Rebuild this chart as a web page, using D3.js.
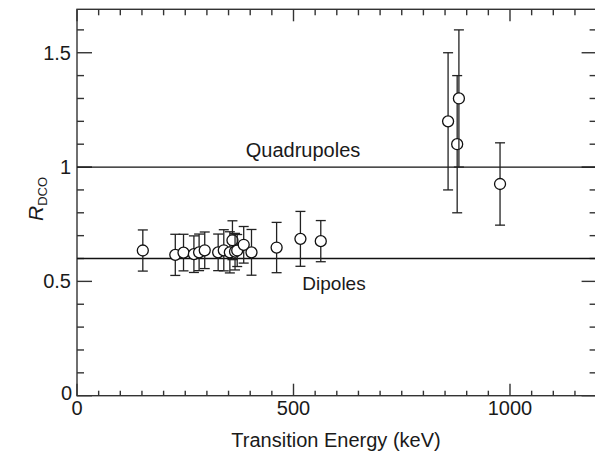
<!DOCTYPE html>
<html>
<head>
<meta charset="utf-8">
<script src="https://cdn.jsdelivr.net/npm/d3@7"></script>
<style>
  body { margin: 0; background: #fff; }
  svg { display: block; font-family: "Liberation Sans", Arial, sans-serif; }
</style>
</head>
<body>
<svg class="chart"></svg>
<script>
var width = 595,
    height = 453;

// transition energies (keV), R_DCO values and symmetric errors
var energy = [152, 227, 246, 270, 282, 295, 326, 339, 353, 359, 365, 370, 385, 403, 461, 516, 563, 857, 878, 882, 977];
var rdco   = [0.635, 0.616, 0.626, 0.619, 0.627, 0.636, 0.627, 0.636, 0.627, 0.68, 0.63, 0.635, 0.66, 0.627, 0.648, 0.686, 0.676, 1.2, 1.1, 1.3, 0.926];
var err    = [0.09, 0.09, 0.08, 0.08, 0.08, 0.08, 0.08, 0.09, 0.09, 0.085, 0.08, 0.07, 0.08, 0.1, 0.11, 0.12, 0.09, 0.3, 0.3, 0.3, 0.18];

var xTicks = [0, 500, 1000];
var yTicks = [0, 0.5, 1, 1.5];
var refLines = [{ value: 1, label: "Quadrupoles" }, { value: 0.6, label: "Dipoles" }];

var x = d3.scaleLinear()
    .domain([0, 1200])
    .range([77, 596.6]);
var y = d3.scaleLinear()
    .domain([0, 1.69])
    .range([395.7, 9.3]);

var chart = d3.select(".chart")
    .attr("width", width)
    .attr("height", height);

var axisColor = "#333";

// minor / major ticks, all four sides pointing inwards
var xMinor = d3.range(0, 1201, 50);
var yMinor = d3.range(0, 1.7, 0.1).map(function(d) { return Math.round(d * 10) / 10; });

function isMajorX(d) { return d % 500 === 0; }
function isMajorY(d) { return Math.abs(d * 2 - Math.round(d * 2)) < 1e-6; }

var frame = chart.append("g")
    .attr("stroke", axisColor)
    .attr("stroke-width", 1.4)
    .attr("fill", "none");

frame.append("rect")
    .attr("x", x(0))
    .attr("y", y(1.69))
    .attr("width", x(1200) - x(0))
    .attr("height", y(0) - y(1.69));

frame.selectAll(".xb")
    .data(xMinor)
  .enter().append("line")
    .attr("x1", function(d) { return x(d); })
    .attr("x2", function(d) { return x(d); })
    .attr("y1", y(0))
    .attr("y2", function(d) { return y(0) - (isMajorX(d) ? 12 : 5); });

frame.selectAll(".xt")
    .data(xMinor)
  .enter().append("line")
    .attr("x1", function(d) { return x(d); })
    .attr("x2", function(d) { return x(d); })
    .attr("y1", y(1.69))
    .attr("y2", function(d) { return y(1.69) + (isMajorX(d) ? 12 : 6); });

frame.selectAll(".yl")
    .data(yMinor)
  .enter().append("line")
    .attr("x1", x(0))
    .attr("x2", function(d) { return x(0) + (isMajorY(d) ? 15 : 7); })
    .attr("y1", function(d) { return y(d); })
    .attr("y2", function(d) { return y(d); });

frame.selectAll(".yr")
    .data(yMinor)
  .enter().append("line")
    .attr("x1", x(1200))
    .attr("x2", function(d) { return x(1200) - (isMajorY(d) ? 15 : 7); })
    .attr("y1", function(d) { return y(d); })
    .attr("y2", function(d) { return y(d); });

// tick labels
chart.selectAll(".xlab")
    .data(xTicks)
  .enter().append("text")
    .attr("x", function(d) { return x(d); })
    .attr("y", 415)
    .attr("text-anchor", "middle")
    .attr("font-size", 20)
    .attr("fill", "#1a1a1a")
    .text(function(d) { return d; });

chart.selectAll(".ylab")
    .data(yTicks)
  .enter().append("text")
    .attr("x", function(d) { return d === 0 ? 72 : 71; })
    .attr("y", function(d) { return y(d) + (d === 0 ? 4 : 7); })
    .attr("text-anchor", "end")
    .attr("font-size", 20)
    .attr("fill", "#1a1a1a")
    .text(function(d) { return d; });

// axis titles
chart.append("text")
    .attr("x", 336)
    .attr("y", 447)
    .attr("text-anchor", "middle")
    .attr("font-size", 20)
    .attr("fill", "#1a1a1a")
    .text("Transition Energy (keV)");

var ylab = chart.append("text")
    .attr("transform", "translate(43,199) rotate(-90)")
    .attr("text-anchor", "middle")
    .attr("fill", "#1a1a1a");
ylab.append("tspan")
    .attr("font-size", 21)
    .attr("font-style", "italic")
    .text("R");
ylab.append("tspan")
    .attr("font-size", 13)
    .attr("dy", 4)
    .text("DCO");

// reference lines
chart.selectAll(".ref")
    .data(refLines)
  .enter().append("line")
    .attr("x1", x(0))
    .attr("x2", x(1200))
    .attr("y1", function(d) { return y(d.value); })
    .attr("y2", function(d) { return y(d.value); })
    .attr("stroke", "#111")
    .attr("stroke-width", 1.3);

chart.selectAll(".reflab")
    .data(refLines)
  .enter().append("text")
    .attr("x", function(d) { return d.value === 1 ? 303 : 334; })
    .attr("y", function(d) { return d.value === 1 ? y(d.value) - 10 : y(d.value) + 31; })
    .attr("text-anchor", "middle")
    .attr("font-size", function(d) { return d.value === 1 ? 20 : 19; })
    .attr("fill", "#1a1a1a")
    .text(function(d) { return d.label; });

// data points with error bars
var points = energy.map(function(e, i) { return { e: e, r: rdco[i], s: err[i] }; });

var pt = chart.selectAll(".pt")
    .data(points)
  .enter().append("g")
    .attr("stroke", "#222")
    .attr("stroke-width", 1.3);

pt.append("line")
    .attr("x1", function(d) { return x(d.e); })
    .attr("x2", function(d) { return x(d.e); })
    .attr("y1", function(d) { return y(d.r + d.s); })
    .attr("y2", function(d) { return y(d.r - d.s); });

pt.append("line")
    .attr("x1", function(d) { return x(d.e) - 5; })
    .attr("x2", function(d) { return x(d.e) + 5; })
    .attr("y1", function(d) { return y(d.r + d.s); })
    .attr("y2", function(d) { return y(d.r + d.s); });

pt.append("line")
    .attr("x1", function(d) { return x(d.e) - 5; })
    .attr("x2", function(d) { return x(d.e) + 5; })
    .attr("y1", function(d) { return y(d.r - d.s); })
    .attr("y2", function(d) { return y(d.r - d.s); });

pt.append("circle")
    .attr("cx", function(d) { return x(d.e); })
    .attr("cy", function(d) { return y(d.r); })
    .attr("r", 5.5)
    .attr("fill", "#fff")
    .attr("stroke", "#111");
</script>
</body>
</html>
